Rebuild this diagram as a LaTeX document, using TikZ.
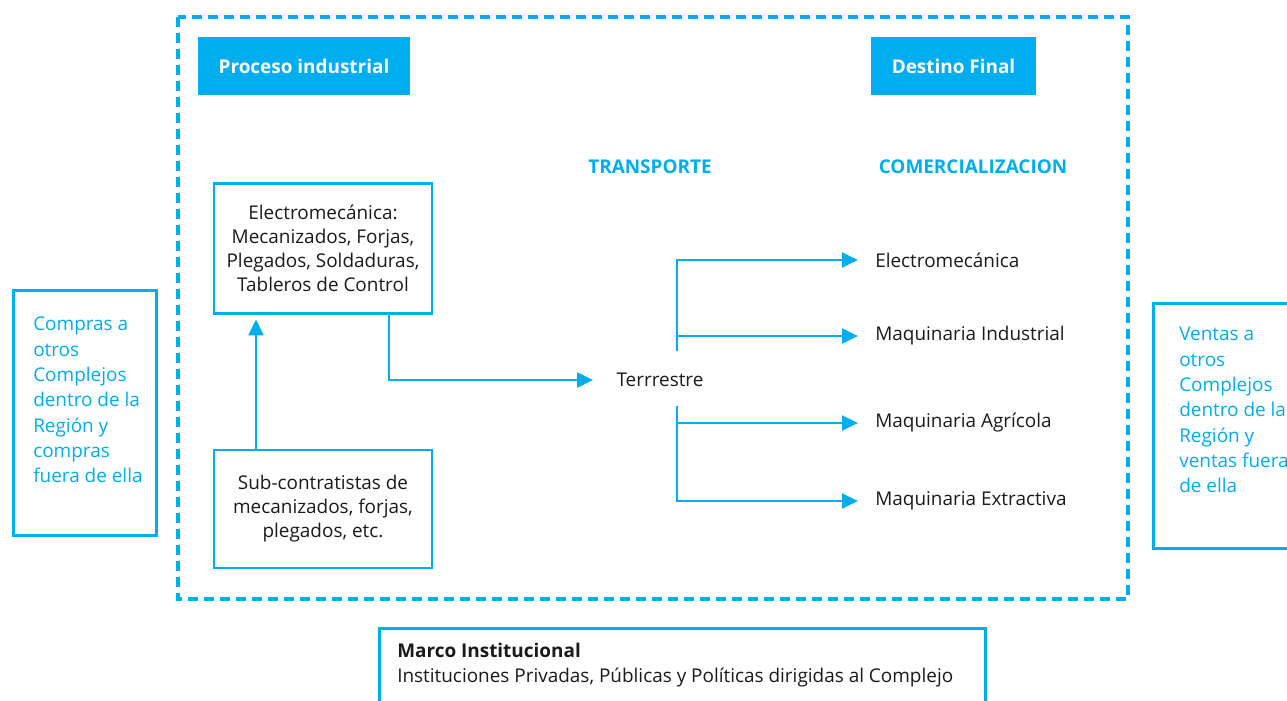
\documentclass[tikz,border=0pt]{standalone}
\usepackage{fontspec}
\setmainfont{Open Sans}
\usetikzlibrary{arrows.meta,positioning}
\definecolor{cian}{HTML}{00AEEF}
\definecolor{tinta}{HTML}{1A1A1A}

\begin{document}
\begin{tikzpicture}[
    x=0.75pt, y=-0.75pt,
    every node/.style={font=\fontsize{14.2}{19}\selectfont, text=tinta},
    titlebox/.style={rectangle, fill=cian, text=white, font=\fontsize{14.2}{19}\selectfont\bfseries, minimum height=43.5pt},
    procbox/.style={rectangle, draw=cian, line width=2.2pt, minimum width=163.5pt, align=center, font=\fontsize{14.2}{18}\selectfont},
    heading/.style={text=cian, font=\fontsize{14.2}{19}\selectfont\bfseries},
    sidebox/.style={rectangle, draw=cian, line width=2.2pt, anchor=north west},
    sidetext/.style={text=cian, align=left, anchor=north west, inner sep=0pt},
    market/.style={anchor=west, inner sep=0pt},
    arrow/.style={-{Triangle[length=12pt,width=11pt]}, draw=cian, line width=2.2pt},
    link/.style={draw=cian, line width=2.2pt}
]
    \useasboundingbox (0,0) rectangle (1287,700);

    % Dashed frame
    \draw[cian, line width=2.4pt, dash pattern=on 7.5pt off 4.5pt] (178,17) rectangle (1128,599);

    % Headers
    \node[titlebox, minimum width=159pt] (proceso) at (304,66) {Proceso industrial};
    \node[titlebox, minimum width=123.75pt] (destino) at (953.5,66) {Destino Final};
    \node[heading] (transporte) at (650,167) {TRANSPORTE};
    \node[heading] (comerc) at (973,167) {COMERCIALIZACION};

    % Process boxes
    \node[procbox, minimum height=98pt] (electro) at (323,248.5) {Electromecánica:\\Mecanizados, Forjas,\\Plegados, Soldaduras,\\Tableros de Control};
    \node[procbox, minimum height=88.5pt] (subcon) at (323,509) {Sub-contratistas de\\mecanizados, forjas,\\plegados, etc.};

    % Transport and markets
    \node (terrestre) at (660,380) {Terrrestre};
    \node[market] (melectro) at (875,260) {Electromecánica};
    \node[market] (mindus) at (875,336) {Maquinaria Industrial};
    \node[market] (magri) at (875,423) {Maquinaria Agrícola};
    \node[market] (mextract) at (875,501) {Maquinaria Extractiva};
    \coordinate (forkU) at (677,351);
    \coordinate (forkD) at (677,406);

    % Arrows
    \draw[arrow, shorten >=3pt] ([xshift=-50.25pt]subcon.north) -- ([xshift=-50.25pt]electro.south);
    \draw[arrow, shorten >=14pt] ([xshift=49.5pt]electro.south) |- (terrestre.west);
    \draw[arrow, shorten >=12.75pt] (forkU) |- (melectro.west);
    \draw[arrow, shorten >=12.75pt] (forkU |- mindus.west) -- (mindus.west);
    \draw[arrow, shorten >=12.75pt] (forkD) |- (mextract.west);
    \draw[arrow, shorten >=12.75pt] (forkD |- magri.west) -- (magri.west);

    % Side boxes
    \node[sidebox, minimum width=107.25pt, minimum height=183.75pt] (compras) at (12,289) {};
    \node[sidetext] (comprastxt) at (33,317) {Compras a\\otros\\Complejos\\dentro de la\\Región y\\compras\\fuera de ella};
    \node[sidebox, minimum width=110pt, minimum height=183.75pt] (ventas) at (1152,302) {};
    \node[sidetext] (ventastxt) at (1179,327) {Ventas a\\otros\\Complejos\\dentro de la\\Región y\\ventas fuera\\de ella};

    % Institutional frame
    \node[sidebox, minimum width=454.5pt, minimum height=60pt] (marco) at (378,627) {};
    \node[anchor=north west, align=left, inner sep=0pt] (marcotxt) at (397,643) {\textbf{Marco Institucional}\\Instituciones Privadas, Públicas y Políticas dirigidas al Complejo};
\end{tikzpicture}
\end{document}
